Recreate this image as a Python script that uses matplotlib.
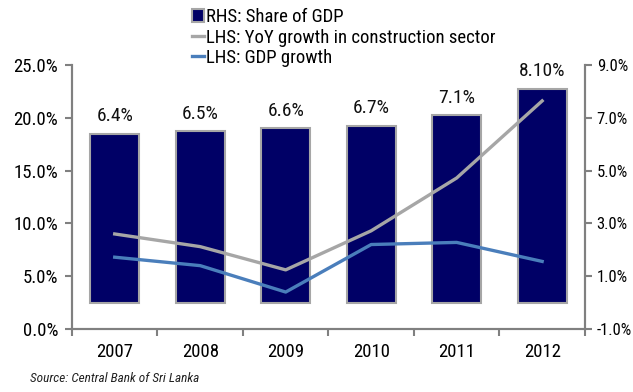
import matplotlib.pyplot as plt
from matplotlib import font_manager
from matplotlib.ticker import FuncFormatter, FixedLocator

# narrow face if present, else DejaVu condensed
names = {f.name for f in font_manager.fontManager.ttflist}
for cand in ['Liberation Sans Narrow', 'Roboto Condensed', 'Open Sans Condensed']:
    if cand in names:
        plt.rcParams['font.family'] = [cand, 'DejaVu Sans']
        break
else:
    plt.rcParams['font.family'] = ['DejaVu Sans']
    plt.rcParams['font.stretch'] = 'condensed'

years = ['2007', '2008', '2009', '2010', '2011', '2012']
share_gdp = [6.4, 6.5, 6.6, 6.7, 7.1, 8.1]          # RHS, %
share_labels = ['6.4%', '6.5%', '6.6%', '6.7%', '7.1%', '8.10%']
construction_growth = [9.0, 7.8, 5.6, 9.3, 14.3, 21.6]  # LHS, %
gdp_growth = [6.8, 6.0, 3.5, 8.0, 8.2, 6.4]            # LHS, %

navy = '#000066'
grey_line = '#a6a6a6'
blue_line = '#4a7ebb'
spine_c = '#808080'

fig = plt.figure(figsize=(6.33, 3.92), dpi=100)
ax = fig.add_axes([0.1137, 0.1607, 0.8103, 0.6735])
ax2 = ax.twinx()
ax2.set_zorder(0)
ax.set_zorder(1)
ax.patch.set_visible(False)

x = list(range(len(years)))

bars = ax2.bar(x, share_gdp, width=0.57, color=navy, edgecolor='#a6a6a6',
               linewidth=1.5, label='RHS: Share of GDP')
for xi, v, lab in zip(x, share_gdp, share_labels):
    ax2.annotate(lab, (xi, v), xytext=(0, 6), textcoords='offset points',
                 ha='center', va='bottom', fontsize=14, color='#111111')

l1, = ax.plot(x, construction_growth, color=grey_line, lw=2.4,
              label='LHS: YoY growth in construction sector')
l2, = ax.plot(x, gdp_growth, color=blue_line, lw=2.4, label='LHS: GDP growth')

ax.set_xlim(-0.5, 5.5)
ax.set_ylim(0, 25)
ax2.set_ylim(-1, 9)
ax.set_yticks([0, 5, 10, 15, 20, 25])
ax2.set_yticks([-1, 1, 3, 5, 7, 9])
ax.yaxis.set_major_formatter(FuncFormatter(lambda v, p: f'{v:.1f}%'))
ax2.yaxis.set_major_formatter(FuncFormatter(lambda v, p: f'{v:.1f}%'))

ax.set_xticks(x)
ax.set_xticklabels(years)
ax.xaxis.set_minor_locator(FixedLocator([i - 0.5 for i in range(7)]))
ax.tick_params(axis='x', which='major', length=0, pad=10, labelsize=13.5)
ax.tick_params(axis='x', which='minor', length=5, color=spine_c, width=1.5)
ax.tick_params(axis='y', length=5, color=spine_c, width=1.5, labelsize=13.5, pad=5)
ax2.tick_params(axis='y', length=5, color=spine_c, width=1.5, labelsize=12, pad=3.5)

for a in (ax, ax2):
    a.spines['top'].set_visible(False)
    for s in ('left', 'right', 'bottom'):
        a.spines[s].set_color(spine_c)
        a.spines[s].set_linewidth(1.5)

fig.legend(handles=[bars, l1, l2], loc='upper left',
           bbox_to_anchor=(0.283, 1.012), frameon=False, fontsize=13.5,
           handlelength=0.6, handletextpad=0.15, labelspacing=0.12,
           borderpad=0.2)

fig.text(0.047, 0.026, 'Source: Central Bank of Sri Lanka', fontsize=9.5,
         style='italic', color='#222222')

fig.savefig('out.png', dpi=100)
